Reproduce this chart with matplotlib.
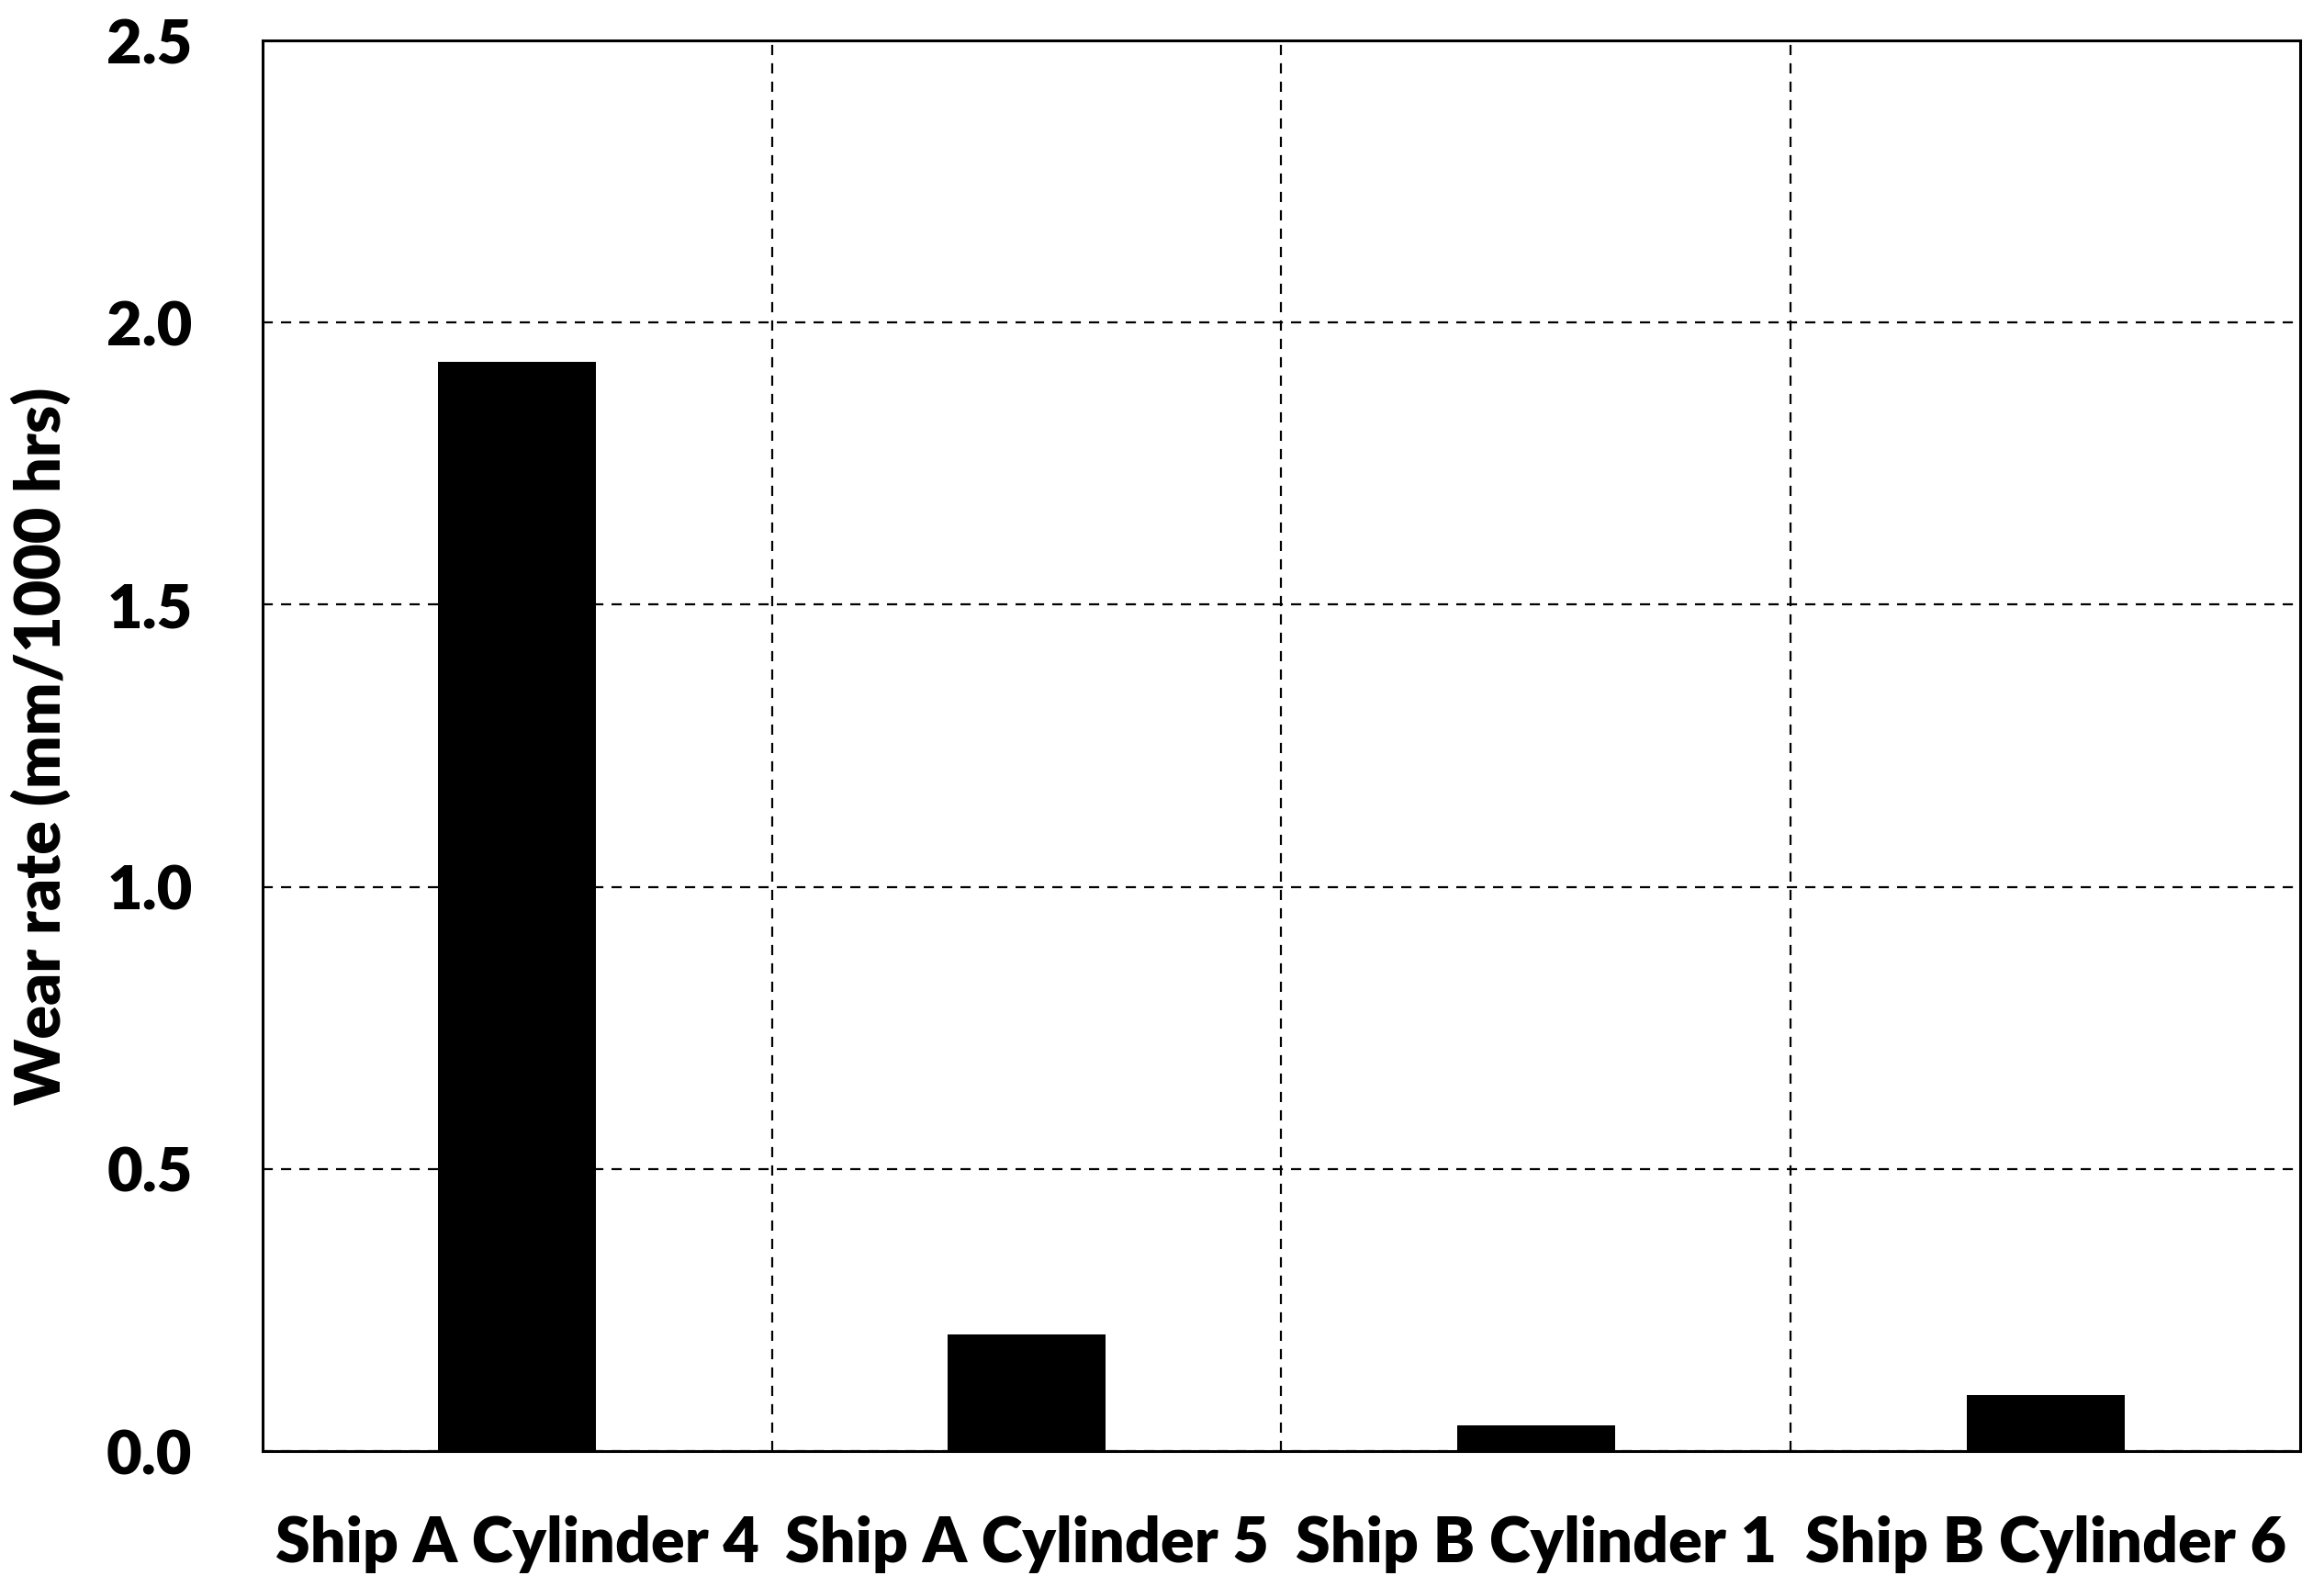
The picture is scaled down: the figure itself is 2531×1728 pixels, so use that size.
import matplotlib
matplotlib.use("Agg")
import matplotlib.pyplot as plt
import numpy as np
from matplotlib.ticker import FixedLocator

categories = ["Ship A Cylinder 4", "Ship A Cylinder 5", "Ship B Cylinder 1", "Ship B Cylinder 6"]
wear_rate = [1.93, 0.207, 0.045, 0.099]
y_ticks = [0.0, 0.5, 1.0, 1.5, 2.0, 2.5]

plt.rcParams["font.family"] = ["Lato", "DejaVu Sans"]
plt.rcParams["font.weight"] = "heavy"

fig = plt.figure(figsize=(25.31, 17.28), dpi=100)
ax = fig.add_axes([0.113, 0.0856, 0.8767, 0.8889])

x = np.arange(len(categories))
ax.bar(x, wear_rate, width=0.31, color="black", zorder=3)

ax.set_xlim(-0.5, len(categories) - 0.5)
ax.set_ylim(0, 2.5)
ax.set_xticks(x)
ax.set_xticklabels(categories)
ax.xaxis.set_minor_locator(FixedLocator(x[:-1] + 0.5))
ax.set_yticks(y_ticks)
ax.set_yticklabels([f"{v:.1f}" for v in y_ticks])

dash = (0, (5, 4))
ax.grid(True, which="major", axis="y", color="black", linestyle=dash, linewidth=1.6, zorder=0)
ax.grid(True, which="minor", axis="x", color="black", linestyle=dash, linewidth=1.6, zorder=0)

ax.tick_params(axis="both", which="both", length=0, labelsize=48)
ax.tick_params(axis="x", labelsize=49, pad=50)
ax.tick_params(axis="y", pad=55)
for sp in ax.spines.values():
    sp.set_linewidth(2.2)
    sp.set_color("black")

ax.set_ylabel("Wear rate (mm/1000 hrs)", fontsize=49, fontweight="heavy", labelpad=28)

fig.savefig("out.png", dpi=100)
